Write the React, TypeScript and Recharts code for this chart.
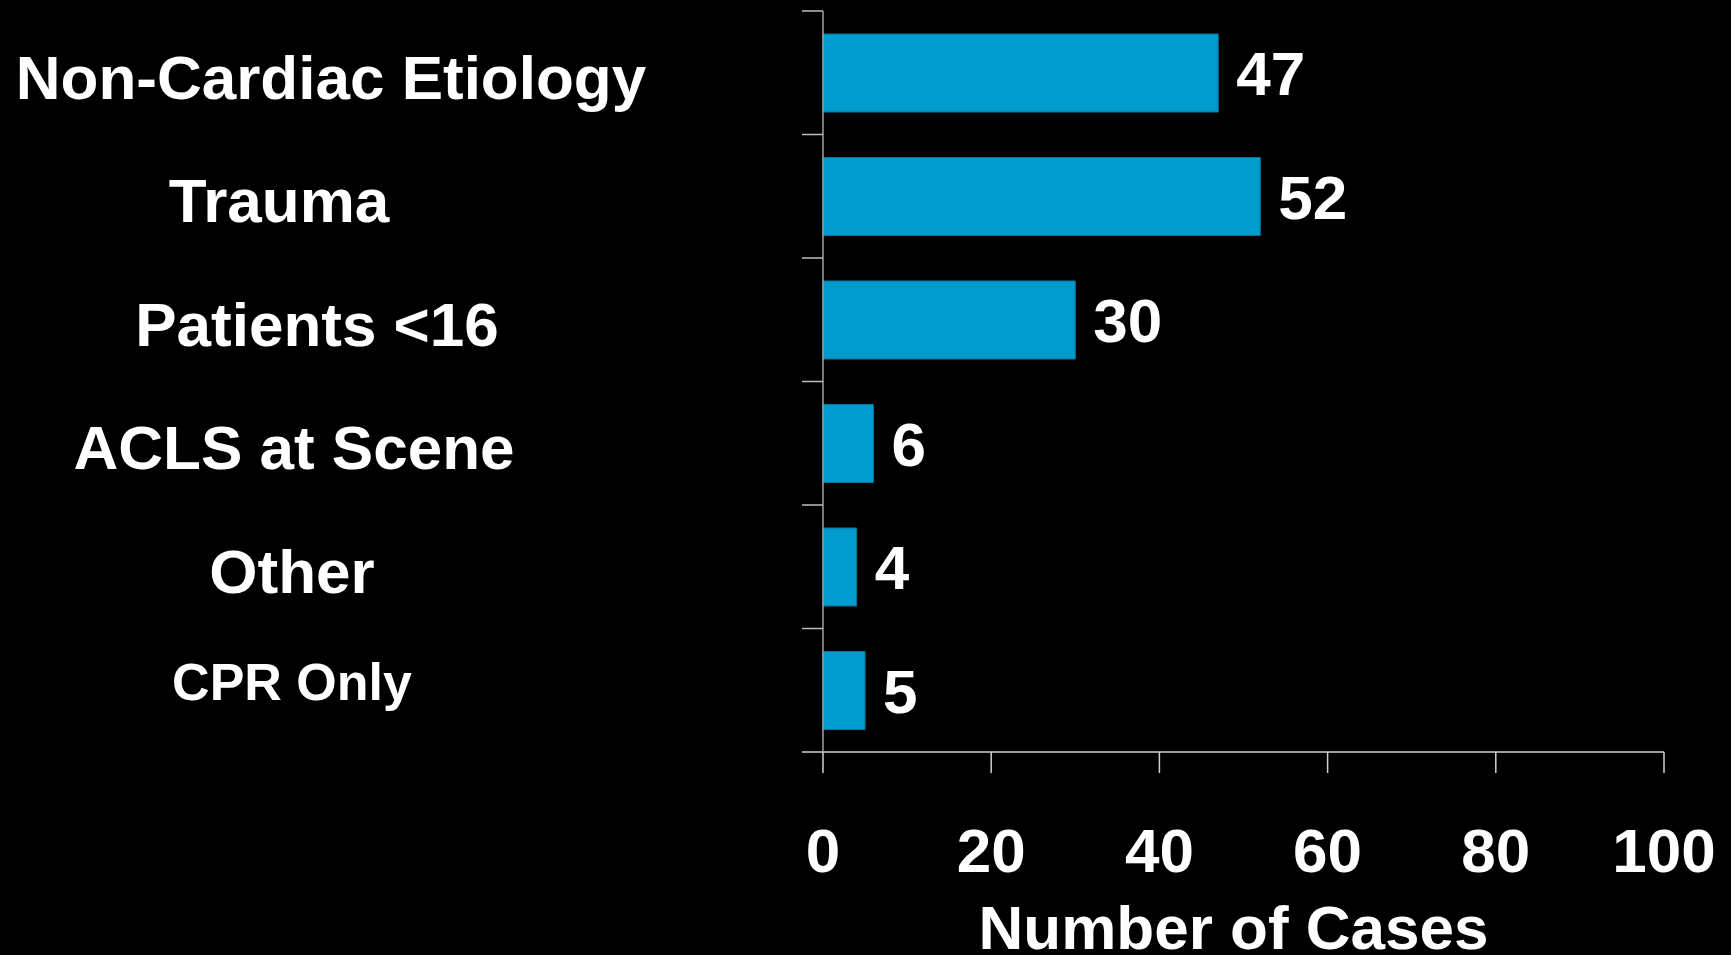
import { Bar, BarChart, LabelList, Label, XAxis, YAxis } from 'recharts';

const categories = [
  'Non-Cardiac Etiology',
  'Trauma',
  'Patients <16',
  'ACLS at Scene',
  'Other',
  'CPR Only',
];
const cases = [47, 52, 30, 6, 4, 5];
const xTicks = [0, 20, 40, 60, 80, 100];

const data = categories.map((name, i) => ({ name, cases: cases[i] }));

const FONT = '"Liberation Sans", Arial, Helvetica, sans-serif';

// where each category label sits (the slide's text boxes are not aligned)
const labelLayout: Record<string, { cx: number; size: number; dy: number }> = {
  'Non-Cardiac Etiology': { cx: 331, size: 62, dy: 26 },
  Trauma: { cx: 279, size: 62, dy: 26 },
  'Patients <16': { cx: 317, size: 62, dy: 26 },
  'ACLS at Scene': { cx: 294, size: 62, dy: 26 },
  Other: { cx: 292, size: 62, dy: 26 },
  'CPR Only': { cx: 292, size: 52, dy: 10 },
};

const CategoryTick = (props: any) => {
  const { x, y, payload, index } = props;
  const half = payload?.offset || 61.75;
  const layout = labelLayout[payload.value] ?? { cx: 300, size: 62, dy: 26 };
  const last = index === categories.length - 1;
  return (
    <g>
      <line x1={x} x2={x + 21} y1={y - half} y2={y - half} stroke="#bdbdbd" strokeWidth={1.5} />
      {last && (
        <line x1={x} x2={x + 21} y1={y + half} y2={y + half} stroke="#d0d0d0" strokeWidth={1.5} />
      )}
      <text
        x={layout.cx}
        y={y + layout.dy}
        textAnchor="middle"
        fill="#ffffff"
        fontFamily={FONT}
        fontWeight="bold"
        fontSize={layout.size}
      >
        {payload.value}
      </text>
    </g>
  );
};

const ValueTick = (props: any) => {
  const { x, y, payload } = props;
  return (
    <text
      x={x}
      y={y + 97}
      textAnchor="middle"
      fill="#ffffff"
      fontFamily={FONT}
      fontWeight="bold"
      fontSize={62}
    >
      {payload.value}
    </text>
  );
};

export default function App() {
  return (
    <div
      style={{
        position: 'fixed',
        left: 0,
        top: 0,
        width: 1731,
        height: 955,
        background: '#000000',
      }}
    >
      <BarChart
        width={1731}
        height={955}
        data={data}
        layout="vertical"
        margin={{ top: 11, right: 67, bottom: 0, left: 0 }}
      >
        <XAxis
          type="number"
          domain={[0, 100]}
          ticks={xTicks}
          interval={0}
          height={203}
          tickSize={21}
          tickMargin={2}
          stroke="#d0d0d0"
          strokeWidth={1.5}
          tick={<ValueTick />}
        >
          <Label
            content={({ viewBox }: any) => (
              <text
                x={viewBox.x + viewBox.width / 2 - 10}
                y={949}
                textAnchor="middle"
                fill="#ffffff"
                fontFamily={FONT}
                fontWeight="bold"
                fontSize={62}
              >
                Number of Cases
              </text>
            )}
          />
        </XAxis>
        <YAxis
          type="category"
          dataKey="name"
          width={823}
          tickSize={21}
          tickMargin={0}
          tickLine={false}
          interval={0}
          stroke="#a0a0a0"
          strokeWidth={1.5}
          tick={<CategoryTick />}
        />
        <Bar
          dataKey="cases"
          fill="#009CCD"
          stroke="#00769c"
          strokeWidth={1}
          barSize={78}
          isAnimationActive={false}
        >
          <LabelList
            dataKey="cases"
            position="right"
            offset={18}
            fill="#ffffff"
            fontFamily={FONT}
            fontWeight="bold"
            fontSize={62}
          />
        </Bar>
      </BarChart>
    </div>
  );
}
